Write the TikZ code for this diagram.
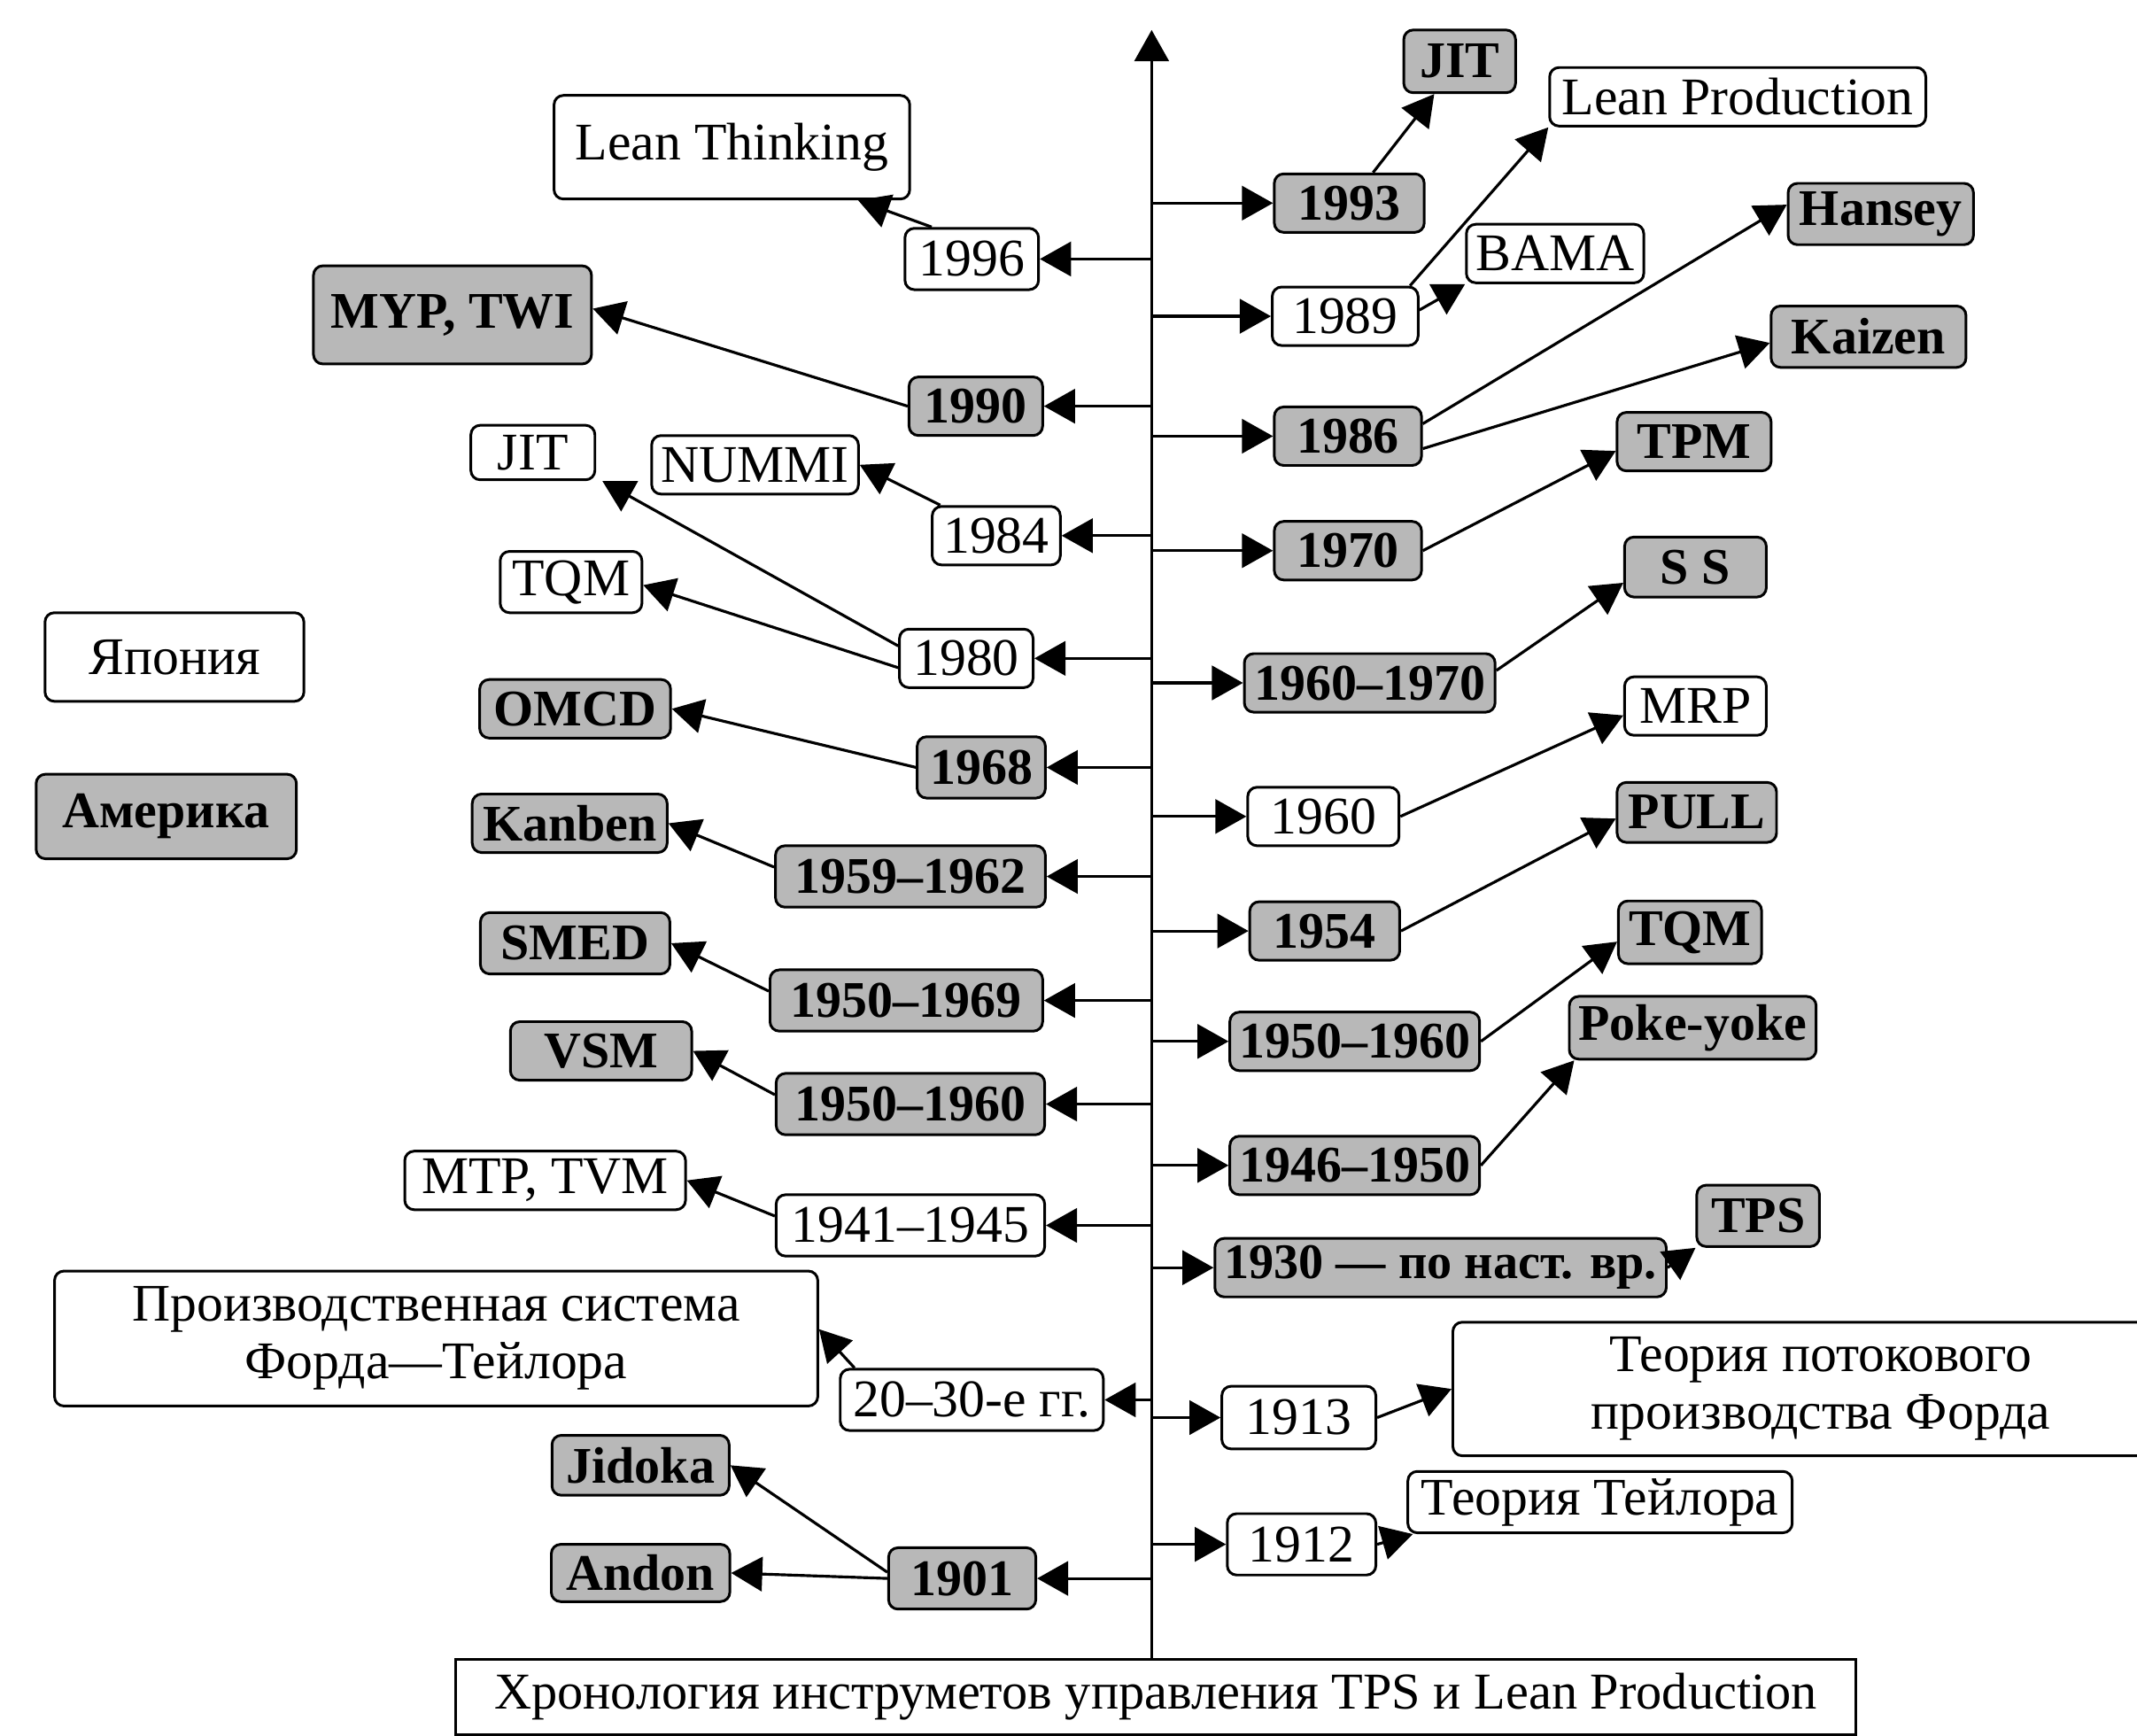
\documentclass[tikz,border=0pt]{standalone}
\usepackage{fontspec}
\setmainfont{Liberation Serif}
\usetikzlibrary{arrows.meta}

\begin{document}
\begin{tikzpicture}
[   x=0.438pt, y=-0.438pt,
    tbox/.style={draw=black,line width=0.85pt,rounded corners=3pt,fill=#1,
        minimum height=18.8pt,inner xsep=3pt,inner ysep=1pt,
        font=\fontsize{17}{18.5}\selectfont},
    wbox/.style={tbox=white},
    gbox/.style={tbox=black!28,font=\fontsize{16.5}{18.5}\selectfont\bfseries},
    bw/.style={minimum width=#1*0.438pt},
    bh/.style={minimum height=#1*0.438pt},
    arr/.style={line width=0.9pt,-{Triangle[length=10pt,width=11pt]}},
]
    \useasboundingbox (0,0) rectangle (1568,1273);
    % time axis
    \coordinate (axb) at (845,1218);
    \coordinate (axt) at (845,22);
    \draw[arr] (axb) -- (axt);

    % years, right side
    \node[gbox,bw=110] (y93) at (990,149) {1993};
    \node[wbox,bw=107] (y89) at (987,232) {1989};
    \node[gbox,bw=108] (y86) at (989,320) {1986};
    \node[gbox,bw=108] (y70) at (989,404) {1970};
    \node[gbox,bw=184] (y6070) at (1005,501) {1960–1970};
    \node[wbox,bw=111] (y60) at (971,599) {1960};
    \node[gbox,bw=110] (y54) at (972,683) {1954};
    \node[gbox,bw=182] (y5060) at (994,764) {1950–1960};
    \node[gbox,bw=182] (y4650) at (994,855) {1946–1950};
    \node[gbox,bw=329,font=\fontsize{16}{18}\selectfont\bfseries] (y30) at (1057,930)
        {1930 — по наст. вр.};
    \node[wbox,bw=113,bh=46] (y13) at (953,1040) {1913};
    \node[wbox,bw=109,bh=45] (y12) at (955,1133) {1912};

    % tools, right side
    \node[gbox,bw=82,bh=46] (jitR) at (1071,45) {JIT};
    \node[wbox,bw=276] (leanP) at (1275,71) {Lean Production};
    \node[wbox,bw=124] (bama) at (1141,186) {BAMA};
    \node[gbox,bw=136,bh=45] (hansey) at (1380,157) {Hansey};
    \node[gbox,bw=143,bh=45] (kaizen) at (1371,247) {Kaizen};
    \node[gbox,bw=113] (tpm) at (1243,324) {TPM};
    \node[gbox,bw=104,bh=44] (ss) at (1244,416) {S S};
    \node[wbox,bw=104] (mrp) at (1244,518) {MRP};
    \node[gbox,bw=117,bh=44] (pull) at (1245,596) {PULL};
    \node[gbox,bw=105,bh=46] (tqmR) at (1240,684) {TQM};
    \node[gbox,bw=175,bh=46] (poka) at (1242,754) {Poke-yoke};
    \node[gbox,bw=90,bh=45] (tps) at (1290,892) {TPS};
    \node[wbox,bw=540,bh=98,align=center] (flow) at (1336,1019)
        {Теория потокового\\производства Форда};
    \node[wbox,bw=282,bh=45] (taylor) at (1174,1102) {Теория Тейлора};

    % years, left side
    \node[wbox,bw=98,bh=45] (y96) at (713,190) {1996};
    \node[gbox,bw=98] (y90) at (716,298) {1990};
    \node[wbox,bw=94] (y84) at (731,393) {1984};
    \node[wbox,bw=98] (y80) at (709,483) {1980};
    \node[gbox,bw=94,bh=45] (y68) at (720,563) {1968};
    \node[gbox,bw=198,bh=45] (y5962) at (668,643) {1959–1962};
    \node[gbox,bw=200,bh=45] (y5069) at (665,734) {1950–1969};
    \node[gbox,bw=197,bh=45] (y5060L) at (668,810) {1950–1960};
    \node[wbox,bw=197,bh=45] (y4145) at (668,899) {1941–1945};
    \node[wbox,bw=193,bh=45] (y2030) at (713,1027) {20–30-е гг.};
    \node[gbox,bw=108,bh=45] (y01) at (706,1158) {1901};

    % tools, left side
    \node[wbox,bw=261,bh=76] (leanT) at (537,108) {Lean Thinking};
    \node[gbox,bw=204,bh=72] (myp) at (332,231) {MYP, TWI};
    \node[wbox,bw=91,bh=40] (jitL) at (391,332) {JIT};
    \node[wbox,bw=151] (nummi) at (554,341) {NUMMI};
    \node[wbox,bw=104,bh=45] (tqmL) at (419,427) {TQM};
    \node[gbox,bw=140] (omcd) at (422,520) {OMCD};
    \node[gbox,bw=143] (kanben) at (418,604) {Kanben};
    \node[gbox,bw=139,bh=45] (smed) at (422,692) {SMED};
    \node[gbox,bw=133] (vsm) at (441,771) {VSM};
    \node[wbox,bw=206] (mtp) at (400,866) {MTP, TVM};
    \node[wbox,bw=560,bh=99,align=center] (ford) at (320,982)
        {Производственная система\\Форда—Тейлора};
    \node[gbox,bw=130,bh=44] (jidoka) at (470,1075) {Jidoka};
    \node[gbox,bw=131,bh=42] (andon) at (470,1154) {Andon};

    % legend and caption
    \node[wbox,bw=190,bh=65] (japan) at (128,482) {Япония};
    \node[gbox,bw=191,bh=62] (america) at (122,599) {Америка};
    \node[wbox,sharp corners,bw=1027,bh=55,font=\fontsize{16.6}{18}\selectfont]
        (title) at (848,1245)
        {Хронология инструметов управления TPS и Lean Production};

    % branches off the axis
    \foreach \n in {y96,y90,y84,y80,y68,y5962,y5069,y5060L,y4145,y2030,y01}
    {   \draw[arr] (axb |- \n.east) -- (\n.east);
    }
    \foreach \n in {y93,y89,y86,y70,y6070,y60,y54,y5060,y4650,y30,y13,y12}
    {   \draw[arr] (axb |- \n.west) -- (\n.west);
    }

    % right links
    \draw[arr] (y93) -- (jitR);
    \draw[arr] ([xshift=-3pt]y89.north east) -- (leanP.south west);
    \draw[arr] ([yshift=2pt]y89.east) -- (bama.south west);
    \draw[arr] ([yshift=4pt]y86.east) -- ([yshift=3pt]hansey.west);
    \draw[arr] ([yshift=-4pt]y86.east) -- ([yshift=-2pt]kaizen.west);
    \draw[arr] (y70.east) -- ([yshift=-3pt]tpm.west);
    \draw[arr] ([yshift=4pt]y6070.east) -- ([yshift=5pt]ss.south west);
    \draw[arr] (y60.east) -- ([yshift=-3pt]mrp.west);
    \draw[arr] (y54.east) -- ([yshift=-2pt]pull.west);
    \draw[arr] (y5060.east) -- ([yshift=-3pt]tqmR.west);
    \draw[arr] (y4650.east) -- ([xshift=2pt]poka.south west);
    \draw[arr] (y30.east) -- (tps.south west);
    \draw[arr] (y13.east) -- (flow.west);
    \draw[arr] (y12.east) -- ([xshift=2pt]taylor.south west);

    % left links
    \draw[arr] ([xshift=9pt]y96.north west) -- ([xshift=-17pt]leanT.south east);
    \draw[arr] (y90.west) -- ([yshift=2pt]myp.east);
    \draw[arr] ([xshift=3pt]y84.north west) -- (nummi.east);
    \draw[arr] ([yshift=4pt]y80.west) -- ([xshift=2pt]jitL.south east);
    \draw[arr] ([yshift=-3pt]y80.west) -- ([yshift=-1pt]tqmL.east);
    \draw[arr] (y68.west) -- (omcd.east);
    \draw[arr] ([yshift=3pt]y5962.west) -- (kanben.east);
    \draw[arr] ([yshift=3pt]y5069.west) -- (smed.east);
    \draw[arr] ([yshift=3pt]y5060L.west) -- (vsm.east);
    \draw[arr] ([yshift=3pt]y4145.west) -- (mtp.east);
    \draw[arr] ([xshift=5pt]y2030.north west) -- ([yshift=3pt]ford.east);
    \draw[arr] ([yshift=2pt]y01.west) -- (jidoka.east);
    \draw[arr] (y01.west) -- (andon.east);
\end{tikzpicture}
\end{document}
